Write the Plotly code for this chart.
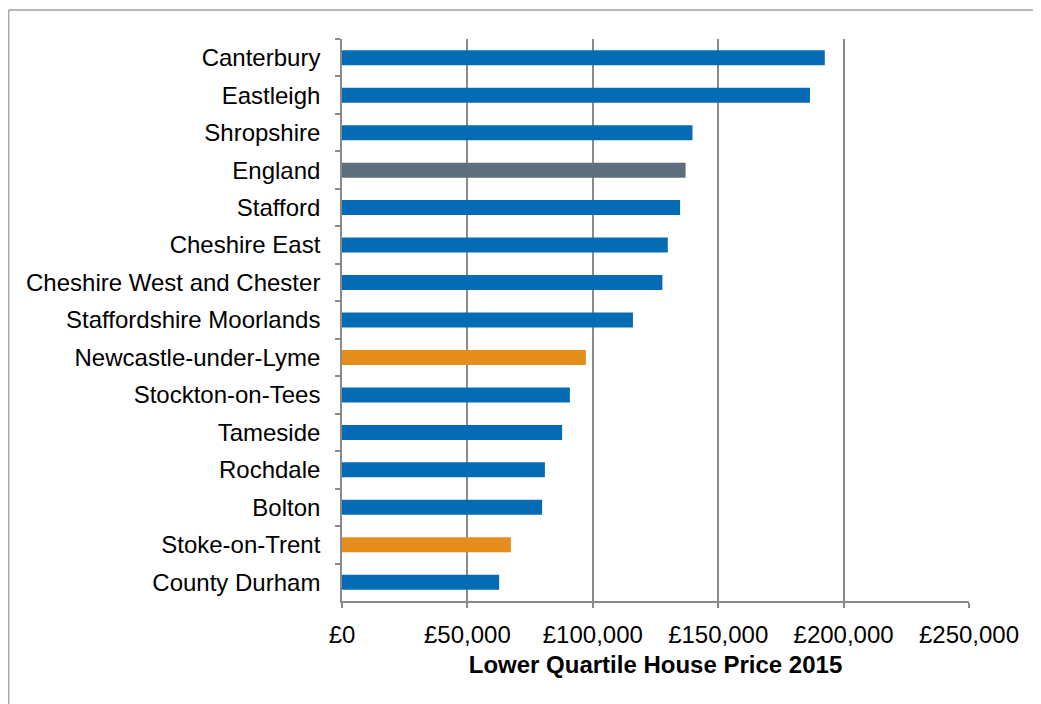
import plotly.graph_objects as go

categories = [
    "Canterbury", "Eastleigh", "Shropshire", "England", "Stafford",
    "Cheshire East", "Cheshire West and Chester", "Staffordshire Moorlands",
    "Newcastle-under-Lyme", "Stockton-on-Tees", "Tameside", "Rochdale",
    "Bolton", "Stoke-on-Trent", "County Durham",
]
prices = [
    192500, 186600, 139750, 137000, 134800,
    129900, 127750, 116000,
    97250, 90850, 87750, 80900,
    79800, 67350, 62650,
]
groups = [
    "comparator", "comparator", "comparator", "national", "comparator",
    "comparator", "comparator", "comparator",
    "local", "comparator", "comparator", "comparator",
    "comparator", "local", "comparator",
]
x_tick_values = [0, 50000, 100000, 150000, 200000, 250000]
x_tick_labels = ["£0", "£50,000", "£100,000", "£150,000", "£200,000", "£250,000"]
x_title = "Lower Quartile House Price 2015"

palette = {"comparator": "#056BB4", "national": "#5E6E7C", "local": "#E68E1D"}
bar_colors = [palette[g] for g in groups]

FONT = "Liberation Sans, Arial, sans-serif"
FS = 24

fig = go.Figure(
    go.Bar(
        x=prices,
        y=categories,
        orientation="h",
        marker=dict(color=bar_colors, line=dict(width=0)),
        width=0.4,
        hoverinfo="skip",
    )
)

# page body has an 8px margin; figure coordinates are page coordinates minus 8
OFF = 8
W, H = 1041 - OFF, 704 - OFF
ml, mt = 342 - OFF, 39 - OFF
mr = W - (969.5 - OFF)
mb = H - (601 - OFF)
pw, ph = W - ml - mr, H - mt - mb


def px_to_paper_x(px):
    return (px - OFF - ml) / pw


def px_to_paper_y(py):
    return (H - mb - (py - OFF)) / ph


border_color = "#A0A0A0"
fig.add_shape(type="line", xref="paper", yref="paper",
              x0=px_to_paper_x(8.5), x1=px_to_paper_x(8.5),
              y0=px_to_paper_y(10), y1=px_to_paper_y(720),
              line=dict(color=border_color, width=1.3), layer="below")
fig.add_shape(type="line", xref="paper", yref="paper",
              x0=px_to_paper_x(8.5), x1=px_to_paper_x(1060),
              y0=px_to_paper_y(10), y1=px_to_paper_y(10),
              line=dict(color=border_color, width=1.3), layer="below")

fig.update_layout(
    width=W,
    height=H,
    margin=dict(l=ml, r=mr, t=mt, b=mb, pad=0),
    paper_bgcolor="white",
    plot_bgcolor="white",
    showlegend=False,
    font=dict(family=FONT, size=FS, color="#000000"),
    xaxis=dict(
        range=[0, 250000],
        tickvals=x_tick_values,
        ticktext=x_tick_labels,
        showgrid=True,
        gridcolor="#8A8A8A",
        gridwidth=1.6,
        zeroline=False,
        showline=True,
        linecolor="#8A8A8A",
        linewidth=1.6,
        ticks="outside",
        ticklen=5,
        tickcolor="#8A8A8A",
        tickwidth=1.6,
        tickfont=dict(family=FONT, size=FS, color="#000000"),
        ticklabelstandoff=6,
        title=dict(text="<b>" + x_title + "</b>",
                   font=dict(family=FONT, size=FS, color="#000000"),
                   standoff=10),
        fixedrange=True,
    ),
    yaxis=dict(
        categoryorder="array",
        categoryarray=categories,
        autorange="reversed",
        showgrid=False,
        zeroline=False,
        showline=True,
        linecolor="#8A8A8A",
        linewidth=1.6,
        ticks="outside",
        tickson="boundaries",
        ticklen=5,
        tickcolor="#8A8A8A",
        tickwidth=1.6,
        tickfont=dict(family=FONT, size=FS, color="#000000"),
        ticklabelstandoff=15,
        fixedrange=True,
    ),
)

fig.write_html("out.html", config={"displayModeBar": False})
